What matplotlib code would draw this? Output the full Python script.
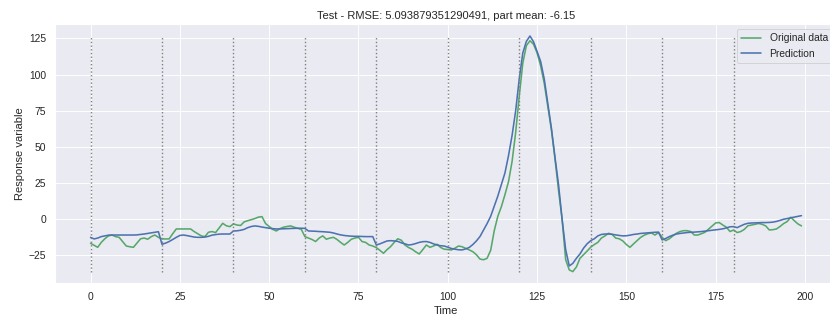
import matplotlib
matplotlib.use("Agg")
import matplotlib.pyplot as plt
from matplotlib.ticker import MultipleLocator
import numpy as np
import seaborn as sns

sns.set_theme(style="darkgrid")
plt.rcParams["font.family"] = ["Liberation Sans", "DejaVu Sans"]

time = np.arange(200)

original = [
    -16.6, -18.0, -19.4, -16.0, -13.5, -11.5, -10.9, -12.0, -12.5, -15.5,
    -18.5, -19.0, -19.4, -16.5, -13.5, -13.0, -13.8, -12.0, -10.9, -12.5,
    -13.6, -13.6, -13.6, -10.0, -6.7, -6.7, -6.7, -6.7, -6.7, -8.5,
    -10.0, -11.5, -12.0, -9.0, -8.5, -9.2, -6.0, -2.8, -4.5, -5.1,
    -3.2, -4.0, -4.3, -1.8, -1.0, -0.3, 0.5, 1.5, 1.8, -3.0,
    -5.0, -7.0, -8.1, -6.5, -5.5, -5.0, -4.6, -5.5, -6.3, -7.0,
    -12.0, -13.0, -14.0, -15.4, -13.0, -11.5, -13.8, -13.0, -12.5, -14.0,
    -16.0, -17.8, -16.0, -13.8, -13.0, -12.5, -15.4, -16.0, -17.8, -18.5,
    -19.6, -21.5, -23.5, -21.0, -18.9, -16.0, -13.5, -14.5, -17.8, -19.5,
    -20.7, -22.5, -24.0, -21.0, -17.8, -19.4, -18.5, -17.3, -19.5, -20.7,
    -20.9, -21.2, -20.0, -18.5, -19.0, -20.1, -21.2, -22.4, -24.5, -27.5,
    -28.0, -27.0, -21.5, -8.0, 2.0, 8.7, 17.0, 26.0, 40.0, 60.0,
    85.0, 108.0, 120.0, 123.4, 121.0, 115.0, 106.0, 94.0, 78.0, 62.0,
    42.0, 20.0, 0.0, -28.0, -35.0, -36.2, -33.0, -27.0, -24.5, -22.0,
    -19.3, -17.5, -16.0, -13.0, -11.5, -9.7, -10.5, -13.0, -13.5, -15.0,
    -17.5, -19.4, -17.0, -14.8, -12.5, -11.0, -10.0, -9.5, -10.9, -9.2,
    -12.5, -14.8, -13.5, -11.5, -9.7, -8.5, -7.9, -7.9, -8.5, -10.9,
    -10.9, -10.0, -9.0, -6.8, -4.5, -2.5, -2.3, -4.0, -5.5, -8.5,
    -7.4, -9.2, -8.5, -7.0, -4.5, -4.0, -3.5, -2.9, -3.5, -4.6,
    -7.4, -7.2, -6.7, -5.0, -3.0, -1.6, 1.4, -1.0, -3.2, -4.6,
]

prediction = [
    -12.5, -13.6, -13.0, -12.0, -11.5, -11.0, -10.9, -10.9, -10.9, -10.9,
    -10.9, -10.9, -10.9, -10.8, -10.5, -10.2, -9.8, -9.4, -9.0, -8.6,
    -17.3, -16.5, -15.4, -14.0, -12.5, -11.2, -10.9, -11.3, -11.8, -12.3,
    -12.5, -12.5, -12.3, -11.8, -11.0, -10.6, -10.3, -10.2, -10.2, -10.2,
    -8.1, -8.0, -7.6, -7.0, -5.8, -5.0, -4.6, -4.9, -5.4, -5.8,
    -6.2, -6.5, -6.7, -6.7, -6.6, -6.5, -6.4, -6.3, -6.2, -6.2,
    -6.3, -8.1, -8.2, -8.3, -8.5, -8.6, -8.8, -9.0, -9.5, -10.2,
    -10.8, -11.2, -11.5, -11.7, -11.8, -11.8, -11.9, -12.0, -12.0, -12.0,
    -17.8, -17.0, -16.0, -15.0, -14.8, -15.0, -15.3, -16.3, -17.0, -17.8,
    -17.5, -16.8, -16.0, -15.5, -15.4, -16.0, -17.0, -17.8, -18.3, -18.5,
    -19.3, -20.2, -20.7, -21.1, -21.2, -20.5, -19.5, -17.5, -15.0, -12.0,
    -7.5, -3.0, 2.0, 9.0, 16.0, 24.0, 32.0, 44.0, 58.0, 75.0,
    97.0, 115.0, 123.0, 126.7, 122.7, 116.0, 109.0, 97.0, 80.0, 63.0,
    43.0, 24.0, 0.0, -21.0, -32.3, -30.5, -27.0, -24.0, -20.0, -17.0,
    -14.8, -13.5, -11.5, -10.5, -10.2, -10.2, -10.4, -10.8, -11.2, -11.5,
    -11.4, -11.0, -10.5, -10.2, -9.8, -9.6, -9.4, -9.2, -9.0, -8.9,
    -14.3, -13.3, -12.0, -11.0, -10.2, -9.8, -9.5, -9.2, -9.0, -8.9,
    -8.7, -8.5, -8.2, -7.9, -7.6, -7.3, -7.0, -6.6, -6.0, -5.2,
    -5.1, -5.8, -4.6, -3.5, -2.8, -2.6, -2.5, -2.4, -2.3, -2.3,
    -2.2, -2.0, -1.5, -0.8, 0.0, 0.5, 1.0, 1.5, 2.0, 2.5,
]

segment_starts = list(range(0, 200, 20))
title = "Test - RMSE: 5.093879351290491, part mean: -6.15"

dpi = 67
fig = plt.figure(figsize=(830 / dpi, 322 / dpi), dpi=dpi)
ax = fig.add_axes([55 / 830, 38.6 / 322, 782 / 830, 259.2 / 322])

palette = sns.color_palette("deep")
ax.plot(time, original, color=palette[2], lw=1.7, label="Original data")
ax.plot(time, prediction, color=palette[0], lw=1.7, label="Prediction")

lo = min(min(original), min(prediction))
hi = max(max(original), max(prediction))
ax.vlines(segment_starts, lo, hi, colors="gray", linestyles="dotted")

ax.yaxis.set_major_locator(MultipleLocator(25))
ax.set_title(title)
ax.set_xlabel("Time")
ax.set_ylabel("Response variable")
ax.legend(loc="upper right")

fig.savefig("out.png", dpi=dpi)
